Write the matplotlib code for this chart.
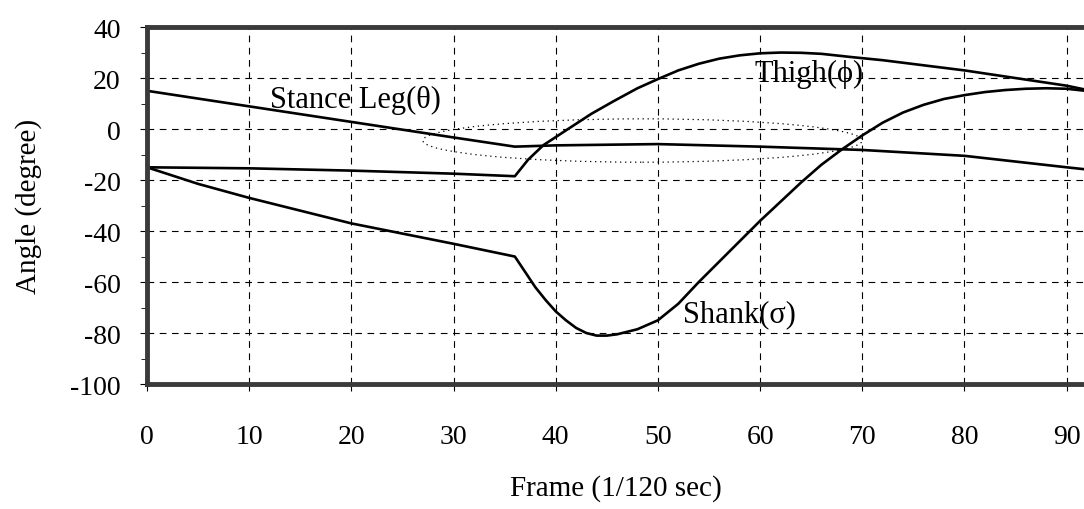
import numpy as np
import matplotlib.pyplot as plt
from matplotlib.patches import Ellipse

plt.rcParams['font.family'] = ['Liberation Serif', 'DejaVu Serif']
plt.rcParams['axes.unicode_minus'] = False

# Stance leg angle (theta)
stance_x = [0, 10, 20, 30, 36, 40, 50, 60, 70, 80, 90, 93]
stance_y = [15, 8.9, 2.8, -3.3, -6.9, -6.4, -5.9, -6.9, -8.2, -10.5, -15, -16.3]

# Thigh angle (phi)
thigh_x = [0, 10, 20, 30, 36, 37.3, 38.8, 41.2, 43.5, 45.7, 48, 50, 52, 54, 56, 58, 60, 62, 64, 66, 69,
           72, 75, 80, 85, 90, 93]
thigh_y = [-15, -15.4, -16.3, -17.5, -18.5, -12, -6.3, 0, 6, 11, 16, 19.6, 23, 25.6, 27.6, 28.9, 29.7, 30,
           29.9, 29.5, 28.2, 27, 25.5, 23, 20, 17, 14.5]

# Shank angle (sigma)
shank_x = [0, 5, 10, 20, 30, 36, 37, 38, 39, 40, 41, 42, 43, 44, 45, 46, 48, 50, 52, 54, 56, 58,
           60, 62, 64, 66, 68, 70, 72, 74, 76, 78, 80, 82, 84, 86, 88, 90, 93]
shank_y = [-15, -21.5, -27, -37, -45, -50, -56, -62, -67, -71.5, -75, -78, -80, -81, -81, -80.5, -78.5, -75,
           -68.5, -60, -52, -44, -36, -28.5, -21, -14, -8, -2.5, 2.5, 6.5, 9.5, 11.8, 13.3, 14.5, 15.3, 15.8,
           16, 15.8, 14.5]

# dotted ellipse around the region where the curves cross
ell_center = (48.5, -4.5)
ell_w, ell_h = 43, 17

fig = plt.figure(figsize=(10.84, 5.10), dpi=100)
ax = fig.add_axes([0.1356, 0.245, 0.8644, 0.7])

for xs, ys in [(stance_x, stance_y), (thigh_x, thigh_y), (shank_x, shank_y)]:
    ax.plot(xs, ys, color='black', lw=1.9)

ax.add_patch(Ellipse(ell_center, ell_w, ell_h, fill=False, ls=(0, (1, 3)), lw=0.9, color='black'))

ax.text(12.0, 11.5, 'Stance Leg(θ)', fontsize=22, va='center')
ax.text(59.5, 21.8, 'Thigh(ϕ)', fontsize=22, va='center')
ax.text(52.5, -72.5, 'Shank(σ)', fontsize=22, va='center')

ax.set_xlim(0, 91.7)
ax.set_ylim(-100, 40)
ax.set_xticks(np.arange(0, 91, 10))
ax.set_yticks(np.arange(-100, 41, 20))
ax.set_yticks(np.arange(-90, 40, 20), minor=True)
ax.grid(True, which='major', ls=(0, (6, 5)), lw=0.8, color='black')

ax.tick_params(axis='x', direction='out', length=5, pad=24, labelsize=20)
ax.tick_params(axis='y', direction='out', length=5, pad=14, labelsize=20)
ax.tick_params(axis='y', which='minor', length=4)

for s in ['left', 'top', 'bottom']:
    ax.spines[s].set_linewidth(3.5)
    ax.spines[s].set_color('#3a3a3a')
ax.spines['right'].set_visible(False)

ax.set_xlabel('Frame (1/120 sec)', fontsize=21, labelpad=18)
ax.set_ylabel('Angle (degree)', fontsize=21, labelpad=20)

fig.savefig('out.png', dpi=100)
